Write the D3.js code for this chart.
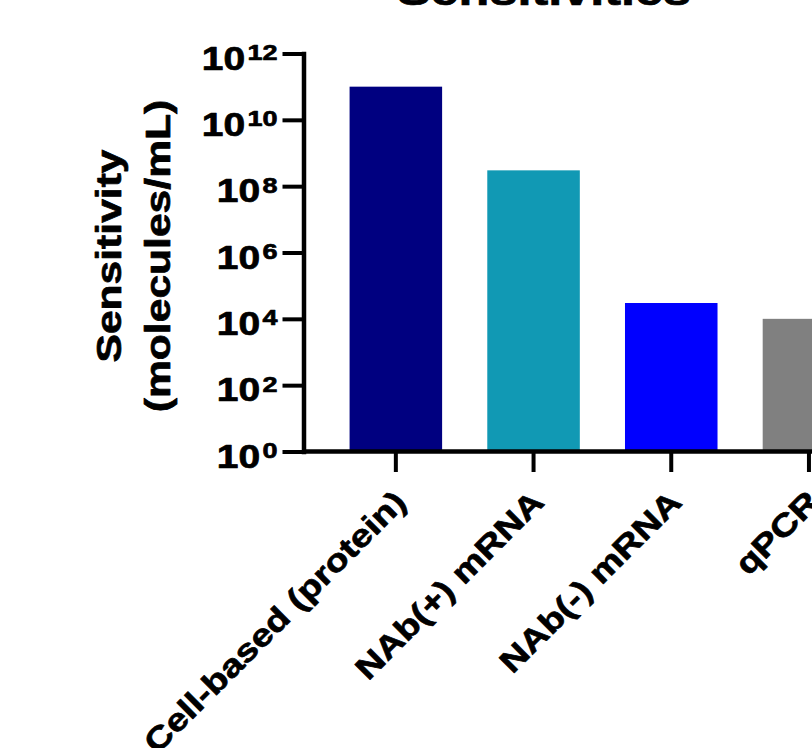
<!DOCTYPE html>
<html>
<head>
<meta charset="utf-8">
<script src="https://cdn.jsdelivr.net/npm/d3@7"></script>
<style>
  html, body { margin: 0; padding: 0; background: #fff; }
  svg { display: block; }
  text {
    font-family: "Liberation Sans", Arial, Helvetica, sans-serif;
    font-weight: bold;
    fill: #000;
    stroke: #000;
    stroke-width: 0.7px;
    stroke-linejoin: round;
  }
</style>
</head>
<body>
<svg id="chart" width="812" height="748"></svg>
<script>
// Assay sensitivity per method (molecules/mL)
const categories = ["Cell-based (protein)", "NAb(+) mRNA", "NAb(-) mRNA", "qPCR"];
const sensitivity = [1e11, 3e8, 3e4, 1e4];
const barColors = ["#000080", "#1199b4", "#0000ff", "#808080"];
const yTickValues = [1, 1e2, 1e4, 1e6, 1e8, 1e10, 1e12];
const titleText = "Sensitivities";
const yLabelLines = ["Sensitivity", "(molecules/mL)"];

const svg = d3.select("#chart");

// Plot frame
const x0 = 304, yTop = 53.5, yBottom = 451.5;
const stretch = 1.2; // horizontal glyph widening used for all text

const y = d3.scaleLog().domain([1, 1e12]).range([yBottom, yTop]);

const x = d3.scaleBand()
  .domain(categories)
  .range([x0, x0 + 596.8])
  .paddingInner(0.328)
  .paddingOuter(0.331);

// Bars
svg.append("g")
  .selectAll("rect")
  .data(categories)
  .join("rect")
  .attr("x", d => x(d))
  .attr("width", x.bandwidth())
  .attr("y", (d, i) => y(sensitivity[i]))
  .attr("height", (d, i) => y(1) - y(sensitivity[i]))
  .attr("fill", (d, i) => barColors[i]);

// Y axis
const yAxis = d3.axisLeft(y)
  .tickValues(yTickValues)
  .tickSize(21)
  .tickSizeOuter(0)
  .tickFormat("");

const gy = svg.append("g")
  .attr("transform", `translate(${x0 - 0.5},0)`)
  .call(yAxis);

gy.select(".domain").attr("stroke-width", 4.5).attr("stroke-linecap", "square");
gy.selectAll(".tick line").attr("stroke-width", 4);

// Power-of-ten tick labels: "10" with a raised exponent
gy.selectAll(".tick").each(function(d) {
  const t = d3.select(this).select("text")
    .attr("x", null).attr("dy", null)
    .attr("fill", null)
    .attr("text-anchor", "end")
    .attr("transform", `translate(-26,15.6) scale(${stretch},1)`)
    .attr("font-size", 32.5);
  t.append("tspan").text("10");
  t.append("tspan")
    .attr("font-size", 22.5)
    .attr("dx", 2)
    .attr("dy", -9.5)
    .text(String(Math.round(Math.log10(d))));
});

// X axis
const xAxis = d3.axisBottom(x).tickSize(21).tickSizeOuter(0).tickFormat("");
const gx = svg.append("g")
  .attr("transform", `translate(0,${yBottom - 0.5})`)
  .call(xAxis);
gx.select(".domain").attr("stroke-width", 4.5);
gx.selectAll(".tick line").attr("stroke-width", 4);

// Rotated category labels
svg.append("g")
  .selectAll("text")
  .data(categories)
  .join("text")
  .attr("text-anchor", "end")
  .attr("font-size", 31.5)
  .attr("transform", d => `translate(${x(d) + x.bandwidth() / 2 + 12},504) rotate(-45) scale(${stretch},1)`)
  .text(d => d);

// Y axis title (two lines)
const yLabelX = [121, 170];
svg.append("g")
  .selectAll("text")
  .data(yLabelLines)
  .join("text")
  .attr("text-anchor", "middle")
  .attr("font-size", 35.5)
  .attr("transform", (d, i) => `translate(${yLabelX[i]},256) rotate(-90) scale(${stretch},1)`)
  .text(d => d);

// Chart title
svg.append("text")
  .attr("text-anchor", "middle")
  .attr("font-size", 42)
  .attr("transform", `translate(544,5) scale(${stretch},1)`)
  .text(titleText);
</script>
</body>
</html>
